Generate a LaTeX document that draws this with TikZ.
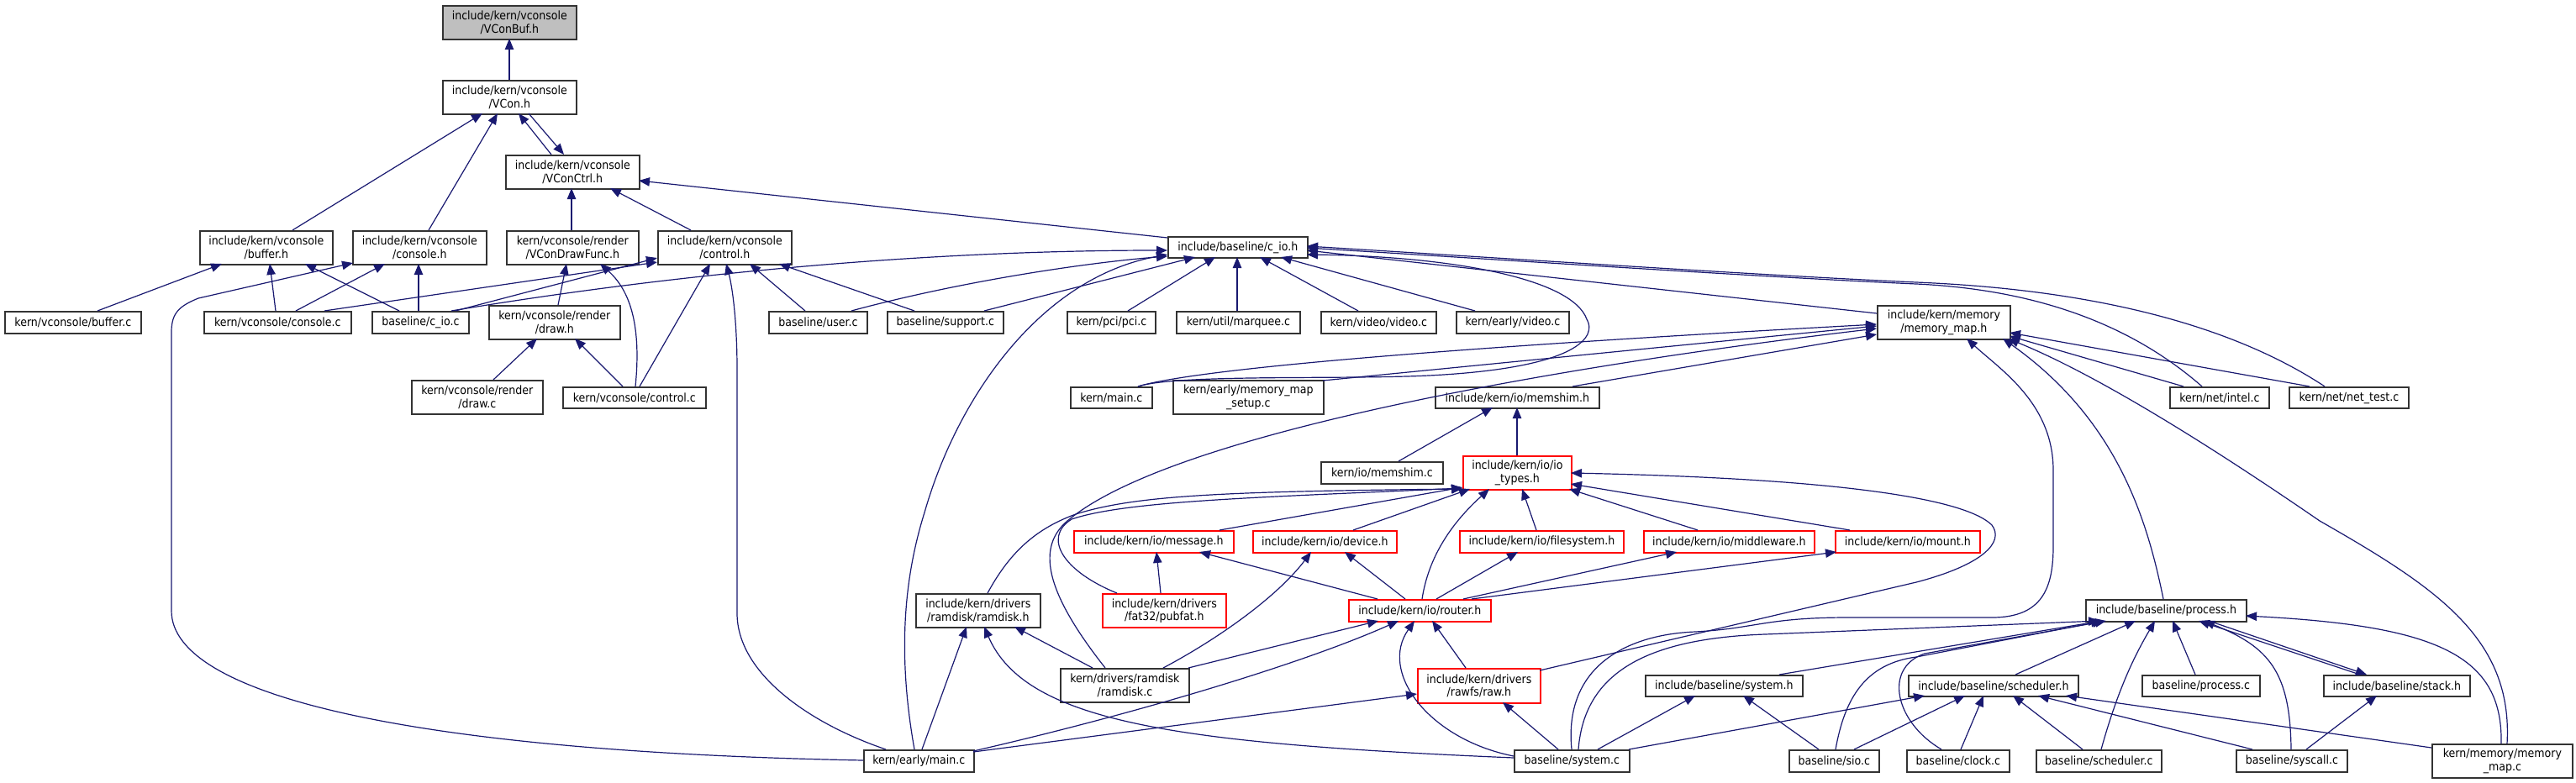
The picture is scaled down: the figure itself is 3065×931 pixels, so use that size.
\documentclass[tikz,border=0pt]{standalone}
\usepackage{fontspec}
\setmainfont{DejaVu Sans Condensed}
\usetikzlibrary{arrows.meta}
\definecolor{edgec}{HTML}{191970}
\definecolor{boxc}{HTML}{333333}
\definecolor{grayfill}{HTML}{BFBFBF}
\newcommand\NW[3]{([shift={(#2,#3)}]#1.north west)}
\begin{document}
\begin{tikzpicture}[x=0.5pt,y=-0.5pt,
  font=\fontsize{7pt}{7.6pt}\selectfont,
  box/.style={draw=boxc,line width=0.85pt,fill=white,inner sep=0pt,align=center,anchor=north west,text=black},
  redbox/.style={box,draw=red},
  bw/.style={minimum width=#1*0.5pt},
  bh/.style={minimum height=#1*0.5pt},
  e/.style={draw=edgec,line width=0.6pt,-{Triangle[length=6.5pt,width=5.2pt]}}]
\useasboundingbox (0,0) rectangle (3065,931);
% nodes
\node[box,fill=grayfill,bw=159,bh=40] (vbuf) at (526,6) {include/kern/vconsole\\/VConBuf.h};
\node[box,bw=159,bh=40] (vcon) at (526,95) {include/kern/vconsole\\/VCon.h};
\node[box,bw=159,bh=40] (vctrl) at (601,184) {include/kern/vconsole\\/VConCtrl.h};
\node[box,bw=158,bh=40] (bufh) at (237,274) {include/kern/vconsole\\/buffer.h};
\node[box,bw=159,bh=40] (consh) at (419,274) {include/kern/vconsole\\/console.h};
\node[box,bw=157,bh=40] (drawf) at (602,274) {kern/vconsole/render\\/VConDrawFunc.h};
\node[box,bw=159,bh=40] (ctrlh) at (782,274) {include/kern/vconsole\\/control.h};
\node[box,bw=166,bh=25] (cioh) at (1389,281) {include/baseline/c\_io.h};
\node[box,bw=162,bh=26] (bufc) at (5,370) {kern/vconsole/buffer.c};
\node[box,bw=175,bh=26] (consc) at (242,370) {kern/vconsole/console.c};
\node[box,bw=115,bh=26] (cioc) at (442,370) {baseline/c\_io.c};
\node[box,bw=156,bh=40] (drawh) at (581,363) {kern/vconsole/render\\/draw.h};
\node[box,bw=156,bh=40] (drawc) at (489,452) {kern/vconsole/render\\/draw.c};
\node[box,bw=170,bh=25] (ctrlc) at (669,460) {kern/vconsole/control.c};
\node[box,bw=117,bh=26] (userc) at (914,370) {baseline/user.c};
\node[box,bw=138,bh=26] (suppc) at (1055,370) {baseline/support.c};
\node[box,bw=105,bh=26] (pcic) at (1269,370) {kern/pci/pci.c};
\node[box,bw=147,bh=26] (marqc) at (1399,370) {kern/util/marquee.c};
\node[box,bw=137,bh=26] (vidc) at (1571,370) {kern/video/video.c};
\node[box,bw=134,bh=26] (evidc) at (1732,370) {kern/early/video.c};
\node[box,bw=158,bh=40] (mmaph) at (2233,363) {include/kern/memory\\/memory\_map.h};
\node[box,bw=97,bh=25] (kmainc) at (1273,460) {kern/main.c};
\node[box,bw=179,bh=40] (mmsetc) at (1395,452) {kern/early/memory\_map\\\_setup.c};
\node[box,bw=195,bh=25] (memshh) at (1707,460) {include/kern/io/memshim.h};
\node[box,bw=118,bh=25] (intelc) at (2581,460) {kern/net/intel.c};
\node[box,bw=142,bh=25] (nettc) at (2723,460) {kern/net/net\_test.c};
\node[box,bw=145,bh=26] (memshc) at (1571,549) {kern/io/memshim.c};
\node[redbox,bw=129,bh=40] (iotyp) at (1740,542) {include/kern/io/io\\\_types.h};
\node[redbox,bw=190,bh=26] (msgh) at (1277,631) {include/kern/io/message.h};
\node[redbox,bw=171,bh=26] (devh) at (1490,631) {include/kern/io/device.h};
\node[redbox,bw=195,bh=26] (fsh) at (1736,631) {include/kern/io/filesystem.h};
\node[redbox,bw=203,bh=26] (mwh) at (1955,631) {include/kern/io/middleware.h};
\node[redbox,bw=172,bh=26] (mnth) at (2183,631) {include/kern/io/mount.h};
\node[box,bw=148,bh=40] (rdh) at (1089,706) {include/kern/drivers\\/ramdisk/ramdisk.h};
\node[redbox,bw=147,bh=40] (pubf) at (1311,706) {include/kern/drivers\\/fat32/pubfat.h};
\node[redbox,bw=169,bh=26] (rtrh) at (1604,713) {include/kern/io/router.h};
\node[box,bw=191,bh=26] (prch) at (2481,713) {include/baseline/process.h};
\node[box,bw=153,bh=40] (rdc) at (1261,795) {kern/drivers/ramdisk\\/ramdisk.c};
\node[redbox,bw=146,bh=41] (rawh) at (1686,795) {include/kern/drivers\\/rawfs/raw.h};
\node[box,bw=187,bh=25] (sysh) at (1957,803) {include/baseline/system.h};
\node[box,bw=202,bh=25] (schh) at (2270,803) {include/baseline/scheduler.h};
\node[box,bw=140,bh=25] (prcc) at (2548,803) {baseline/process.c};
\node[box,bw=174,bh=25] (stkh) at (2764,803) {include/baseline/stack.h};
\node[box,bw=131,bh=26] (emainc) at (1027,892) {kern/early/main.c};
\node[box,bw=137,bh=26] (sysc) at (1801,892) {baseline/system.c};
\node[box,bw=107,bh=26] (sioc) at (2128,892) {baseline/sio.c};
\node[box,bw=122,bh=26] (clkc) at (2268,892) {baseline/clock.c};
\node[box,bw=149,bh=26] (schc) at (2422,892) {baseline/scheduler.c};
\node[box,bw=132,bh=26] (sysclc) at (2660,892) {baseline/syscall.c};
\node[box,bw=167,bh=40] (mmapc) at (2893,885) {kern/memory/memory\\\_map.c};
% edges
\draw[e] \NW{vcon}{80}{0} -- \NW{vbuf}{80}{40};
\draw[e] \NW{bufh}{111}{0} -- \NW{vcon}{48}{40};
\draw[e] \NW{consh}{91}{0} -- \NW{vcon}{66}{40};
\draw[e] \NW{vctrl}{55}{0} -- \NW{vcon}{91}{40};
\draw[e] \NW{vcon}{103}{40} -- \NW{vctrl}{70}{0};
\draw[e] \NW{drawf}{78}{0} -- \NW{vctrl}{79}{40};
\draw[e] \NW{ctrlh}{40}{0} -- \NW{vctrl}{125}{40};
\draw[e] \NW{cioh}{0}{2} -- \NW{vctrl}{159}{31};
\draw[e] \NW{bufc}{111}{0} -- \NW{bufh}{27}{40};
\draw[e] \NW{consc}{86}{0} -- \NW{bufh}{84}{40};
\draw[e] \NW{cioc}{33}{0} -- \NW{bufh}{126}{40};
\draw[e] \NW{consc}{110}{0} -- \NW{consh}{39}{40};
\draw[e] \NW{cioc}{56}{0} -- \NW{consh}{79}{40};
\draw[e] \NW{emainc}{0}{13} .. controls (500,895) and (204,830) .. (204,727) -- (204,395) .. controls (204,372) and (214,364) .. (236,355) -- \NW{consh}{1}{39};
\draw[e] \NW{consc}{144}{0} -- \NW{ctrlh}{0}{38};
\draw[e] \NW{cioc}{100}{0} -- \NW{ctrlh}{0}{33};
\draw[e] \NW{cioc}{95}{0} .. controls (800,326) and (1100,298) .. \NW{cioh}{0}{17};
\draw[e] \NW{drawh}{83}{0} -- \NW{drawf}{72}{40};
\draw[e] \NW{ctrlc}{87}{0} .. controls (762,400) and (755,350) .. \NW{drawf}{112}{40};
\draw[e] \NW{drawc}{98}{0} -- \NW{drawh}{58}{40};
\draw[e] \NW{ctrlc}{72}{0} -- \NW{drawh}{103}{40};
\draw[e] \NW{ctrlc}{92}{0} -- \NW{ctrlh}{63}{40};
\draw[e] \NW{emainc}{27}{0} .. controls (960,860) and (877,800) .. (877,730) -- (877,440) .. controls (877,380) and (871,340) .. \NW{ctrlh}{82}{40};
\draw[e] \NW{userc}{44}{0} -- \NW{ctrlh}{110}{40};
\draw[e] \NW{suppc}{33}{0} -- \NW{ctrlh}{145}{40};
\draw[e] \NW{userc}{99}{0} .. controls (1150,333) and (1300,312) .. \NW{cioh}{0}{24};
\draw[e] \NW{suppc}{116}{0} -- \NW{cioh}{33}{25};
\draw[e] \NW{pcic}{73}{0} -- \NW{cioh}{57}{25};
\draw[e] \NW{marqc}{73}{0} -- \NW{cioh}{83}{25};
\draw[e] \NW{vidc}{45}{0} -- \NW{cioh}{110}{25};
\draw[e] \NW{evidc}{23}{0} -- \NW{cioh}{135}{25};
\draw[e] \NW{emainc}{61}{0} .. controls (1068,780) and (1075,690) .. (1100,610) .. controls (1140,470) and (1240,330) .. \NW{cioh}{0}{22};
\draw[e] \NW{kmainc}{81}{0} .. controls (1400,445) and (1600,452) .. (1700,447) .. controls (1880,438) and (1900,400) .. (1888,380) .. controls (1870,330) and (1720,305) .. \NW{cioh}{166}{22};
\draw[e] \NW{mmaph}{0}{10} -- \NW{cioh}{166}{17};
\draw[e] \NW{intelc}{39}{0} .. controls (2540,390) and (2430,345) .. (2280,338) .. controls (2100,330) and (1800,310) .. \NW{cioh}{166}{14};
\draw[e] \NW{nettc}{43}{0} .. controls (2660,390) and (2500,345) .. (2280,336) .. controls (2100,328) and (1800,308) .. \NW{cioh}{166}{12};
\draw[e] \NW{intelc}{17}{0} -- \NW{mmaph}{158}{37};
\draw[e] \NW{nettc}{25}{0} -- \NW{mmaph}{158}{33};
\draw[e] \NW{mmsetc}{179}{1} -- \NW{mmaph}{0}{25};
\draw[e] \NW{kmainc}{81}{0} .. controls (1420,440) and (1700,415) .. \NW{mmaph}{0}{23};
\draw[e] \NW{memshh}{164}{0} -- \NW{mmaph}{0}{35};
\draw[e] \NW{rdc}{54}{0} .. controls (1240,700) and (1235,650) .. (1270,620) .. controls (1400,510) and (1900,430) .. \NW{mmaph}{0}{28};
\draw[e] \NW{memshc}{93}{0} -- \NW{memshh}{69}{25};
\draw[e] \NW{iotyp}{65}{0} -- \NW{memshh}{98}{25};
\draw[e] \NW{msgh}{174}{0} -- \NW{iotyp}{0}{38};
\draw[e] \NW{devh}{120}{0} -- \NW{iotyp}{9}{40};
\draw[e] \NW{rtrh}{88}{0} .. controls (1700,660) and (1730,620) .. \NW{iotyp}{32}{40};
\draw[e] \NW{fsh}{92}{0} -- \NW{iotyp}{71}{40};
\draw[e] \NW{mwh}{65}{0} -- \NW{iotyp}{127}{40};
\draw[e] \NW{mnth}{18}{0} -- \NW{iotyp}{129}{34};
\draw[e] \NW{rawh}{146}{3} -- (2280,693) .. controls (2360,672) and (2385,645) .. (2370,625) .. controls (2340,595) and (2200,570) .. \NW{iotyp}{129}{21};
\draw[e] \NW{rdh}{86}{0} .. controls (1200,660) and (1230,630) .. (1280,612) .. controls (1350,590) and (1450,585) .. \NW{iotyp}{0}{40};
\draw[e] \NW{pubf}{18}{0} .. controls (1265,680) and (1240,640) .. (1275,618) .. controls (1340,596) and (1500,592) .. \NW{iotyp}{0}{39};
\draw[e] \NW{pubf}{70}{0} -- \NW{msgh}{99}{26};
\draw[e] \NW{rtrh}{35}{0} -- \NW{msgh}{150}{26};
\draw[e] \NW{rtrh}{68}{0} -- \NW{devh}{110}{26};
\draw[e] \NW{rtrh}{105}{0} -- \NW{fsh}{70}{26};
\draw[e] \NW{rtrh}{137}{0} -- \NW{mwh}{40}{26};
\draw[e] \NW{rtrh}{147}{0} -- \NW{mnth}{2}{26};
\draw[e] \NW{rdc}{123}{0} .. controls (1450,760) and (1520,710) .. \NW{devh}{70}{26};
\draw[e] \NW{rdc}{153}{0} -- \NW{rtrh}{36}{26};
\draw[e] \NW{emainc}{131}{2} .. controls (1350,850) and (1550,790) .. \NW{rtrh}{60}{26};
\draw[e] \NW{emainc}{131}{3} -- \NW{rawh}{0}{31};
\draw[e] \NW{emainc}{70}{0} -- \NW{rdh}{61}{40};
\draw[e] \NW{rdc}{39}{0} -- \NW{rdh}{118}{40};
\draw[e] \NW{rawh}{58}{0} -- \NW{rtrh}{100}{26};
\draw[e] \NW{sysc}{53}{0} -- \NW{rawh}{102}{41};
\draw[e] \NW{sysc}{0}{8} .. controls (1700,880) and (1640,800) .. \NW{rtrh}{79}{26};
\draw[e] \NW{sysc}{0}{10} .. controls (1400,885) and (1220,860) .. \NW{rdh}{82}{40};
\draw[e] \NW{sysc}{69}{0} .. controls (1860,790) and (1940,755) .. (2017,752) .. controls (2090,748) and (2100,735) .. (2200,735) -- (2370,735) .. controls (2430,735) and (2443,700) .. (2443,650) -- (2443,560) .. controls (2443,480) and (2380,440) .. \NW{mmaph}{107}{40};
\draw[e] \NW{sysc}{77}{0} .. controls (1885,800) and (1960,760) .. (2100,755) -- \NW{prch}{17}{26};
\draw[e] \NW{sysc}{100}{0} -- \NW{sysh}{60}{25};
\draw[e] \NW{sysc}{137}{0} -- \NW{schh}{20}{25};
\draw[e] \NW{sysh}{160}{0} -- \NW{prch}{20}{26};
\draw[e] \NW{sioc}{36}{0} -- \NW{sysh}{117}{25};
\draw[e] \NW{sioc}{56}{0} .. controls (2195,830) and (2220,790) .. (2280,782) -- \NW{prch}{22}{26};
\draw[e] \NW{sioc}{78}{0} -- \NW{schh}{68}{25};
\draw[e] \NW{clkc}{65}{0} -- \NW{schh}{90}{25};
\draw[e] \NW{clkc}{42}{0} .. controls (2255,860) and (2240,795) .. (2290,778) -- \NW{prch}{25}{26};
\draw[e] \NW{schc}{56}{0} -- \NW{schh}{125}{25};
\draw[e] \NW{schc}{78}{0} .. controls (2520,820) and (2540,780) .. \NW{prch}{83}{26};
\draw[e] \NW{sysclc}{20}{0} -- \NW{schh}{155}{25};
\draw[e] \NW{mmapc}{0}{5} -- \NW{schh}{188}{25};
\draw[e] \NW{sysclc}{66}{0} .. controls (2725,800) and (2700,770) .. \NW{prch}{141}{26};
\draw[e] \NW{sysclc}{84}{0} -- \NW{stkh}{64}{25};
\draw[e] \NW{stkh}{44}{0} -- \NW{prch}{135}{26};
\draw[e] \NW{prch}{147}{26} -- \NW{stkh}{52}{0};
\draw[e] \NW{prcc}{64}{0} -- \NW{prch}{104}{26};
\draw[e] \NW{schh}{128}{0} -- \NW{prch}{60}{26};
\draw[e] \NW{mmapc}{83}{0} .. controls (2978,780) and (2900,745) .. \NW{prch}{191}{20};
\draw[e] \NW{mmapc}{90}{0} .. controls (2990,760) and (2900,700) .. (2760,620) .. controls (2600,510) and (2480,440) .. \NW{mmaph}{156}{40};
\draw[e] \NW{prch}{93}{0} .. controls (2555,620) and (2520,500) .. \NW{mmaph}{150}{40};
\end{tikzpicture}
\end{document}
